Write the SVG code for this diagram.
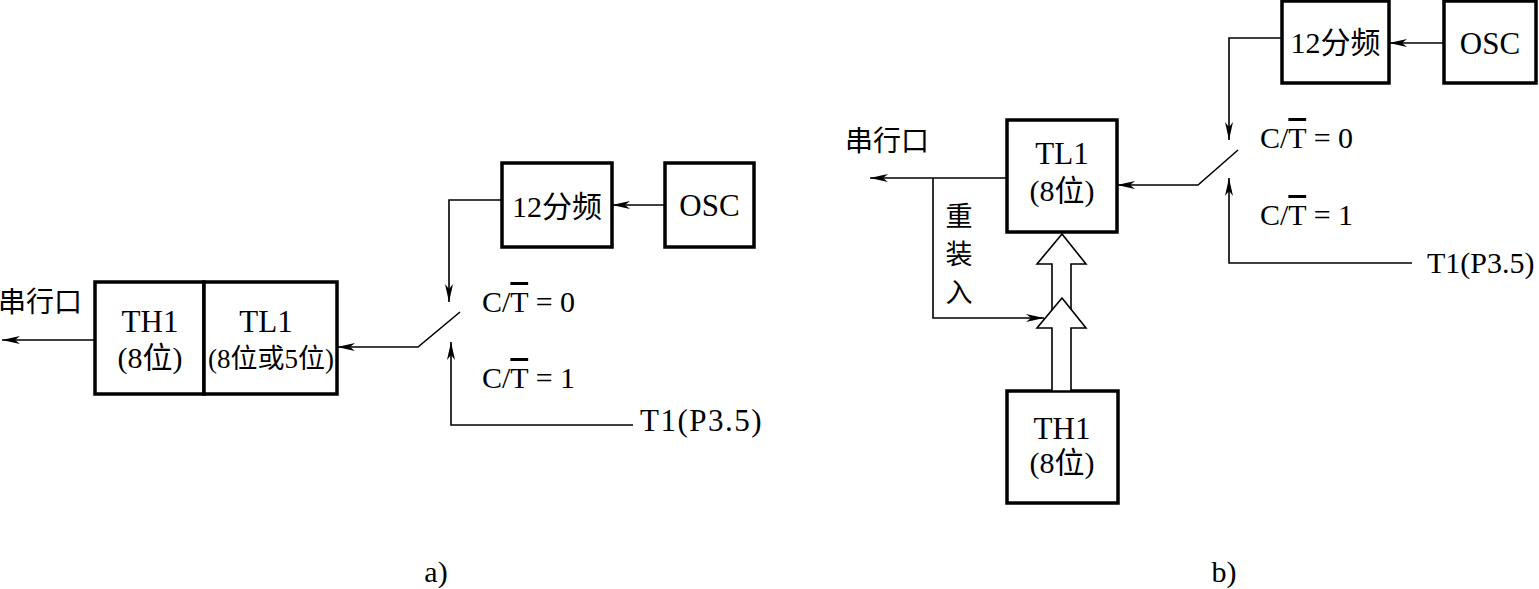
<svg xmlns="http://www.w3.org/2000/svg" width="1539" height="589" viewBox="0 0 1539 589">
<defs>
<marker id="arr" viewBox="0 0 18 8" refX="18" refY="4" markerWidth="18" markerHeight="8" markerUnits="userSpaceOnUse" orient="auto">
<path d="M0,0 L18,4 L0,8 L5,4 z" fill="#000"/>
</marker>
</defs>
<style>
.box{fill:#fff;stroke:#000;stroke-width:3.5}
.ln{fill:none;stroke:#000;stroke-width:1.6}
.ar{fill:none;stroke:#000;stroke-width:1.6;marker-end:url(#arr)}
.hol{fill:#fff;stroke:#000;stroke-width:1.6;stroke-linejoin:miter}
text{font-family:"Liberation Serif","Noto Sans CJK SC",serif;font-size:30px;fill:#000}
.c{text-anchor:middle}
.big{font-size:31px}
.ol{text-decoration:overline}
</style>
<rect width="1539" height="589" fill="#fff"/>

<!-- Panel a -->
<g id="a-TH1">
<rect class="box" x="95" y="282" width="109" height="112"/>
<text class="c big" x="150" y="332">TH1</text>
<text class="c" x="150" y="368">(8位)</text>
</g>
<g id="a-TL1">
<rect class="box" x="204" y="282" width="133" height="112"/>
<text class="c big" x="266" y="332">TL1</text>
<text class="c" x="271" y="368" style="font-size:27px">(8位或5位)</text>
</g>
<g id="a-div">
<rect class="box" x="502" y="163" width="110" height="84"/>
<text class="c" x="557" y="217">12分频</text>
</g>
<g id="a-osc">
<rect class="box" x="665" y="163" width="89" height="84"/>
<text class="c big" x="709.5" y="216">OSC</text>
</g>
<g id="a-labels">
<text x="-2" y="312" style="font-size:28px">串行口</text>
<text x="482" y="312">C/<tspan class="ol">T</tspan> = 0</text>
<text x="482" y="388">C/<tspan class="ol">T</tspan> = 1</text>
<text x="640" y="431" style="font-size:31px;letter-spacing:1.5px">T1(P3.5)</text>
<text class="c" x="436" y="582">a)</text>
</g>
<g id="a-connectors">
<path class="ar" d="M502,200 H449 V302"/>
<path class="ar" d="M665,205 H612"/>
<path class="ar" d="M460,312 L418,347 H337"/>
<path class="ar" d="M633,425 H451 V342"/>
<path class="ar" d="M95,340 H2"/>
</g>

<!-- Panel b -->
<g id="b-TL1">
<rect class="box" x="1007" y="120" width="110" height="112"/>
<text class="c big" x="1062" y="164">TL1</text>
<text class="c" x="1062" y="201">(8位)</text>
</g>
<g id="b-TH1">
<rect class="box" x="1007" y="391" width="111" height="112"/>
<text class="c big" x="1062" y="439">TH1</text>
<text class="c" x="1062" y="473">(8位)</text>
</g>
<g id="b-div">
<rect class="box" x="1282" y="1" width="107" height="82"/>
<text class="c" x="1335.5" y="53">12分频</text>
</g>
<g id="b-osc">
<rect class="box" x="1444" y="1" width="92" height="82"/>
<text class="c big" x="1490" y="54">OSC</text>
</g>
<g id="b-labels">
<text x="845" y="151" style="font-size:28px">串行口</text>
<text class="c" x="959" y="226" style="font-size:27px">重</text>
<text class="c" x="959" y="264" style="font-size:27px">装</text>
<text class="c" x="959" y="302" style="font-size:27px">入</text>
<text x="1260" y="148">C/<tspan class="ol">T</tspan> = 0</text>
<text x="1260" y="225">C/<tspan class="ol">T</tspan> = 1</text>
<text x="1427" y="273">T1(P3.5)</text>
<text class="c" x="1224" y="582">b)</text>
</g>
<g id="b-connectors">
<path class="ar" d="M1282,38 H1229 V140"/>
<path class="ar" d="M1444,43 H1389"/>
<path class="ar" d="M1238,150 L1198,185 H1117"/>
<path class="ar" d="M1412,263 H1229 V178"/>
<path class="ar" d="M1007,178 H870"/>
<path class="ar" d="M933,178 V318 H1044"/>
<path class="hol" d="M1062,234 L1086,264 L1071,264 L1071,312 L1052,312 L1052,264 L1037,264 Z"/>
<path class="hol" d="M1062,298 L1086,328 L1071,328 L1071,391 L1052,391 L1052,328 L1037,328 Z"/>
</g>
</svg>
